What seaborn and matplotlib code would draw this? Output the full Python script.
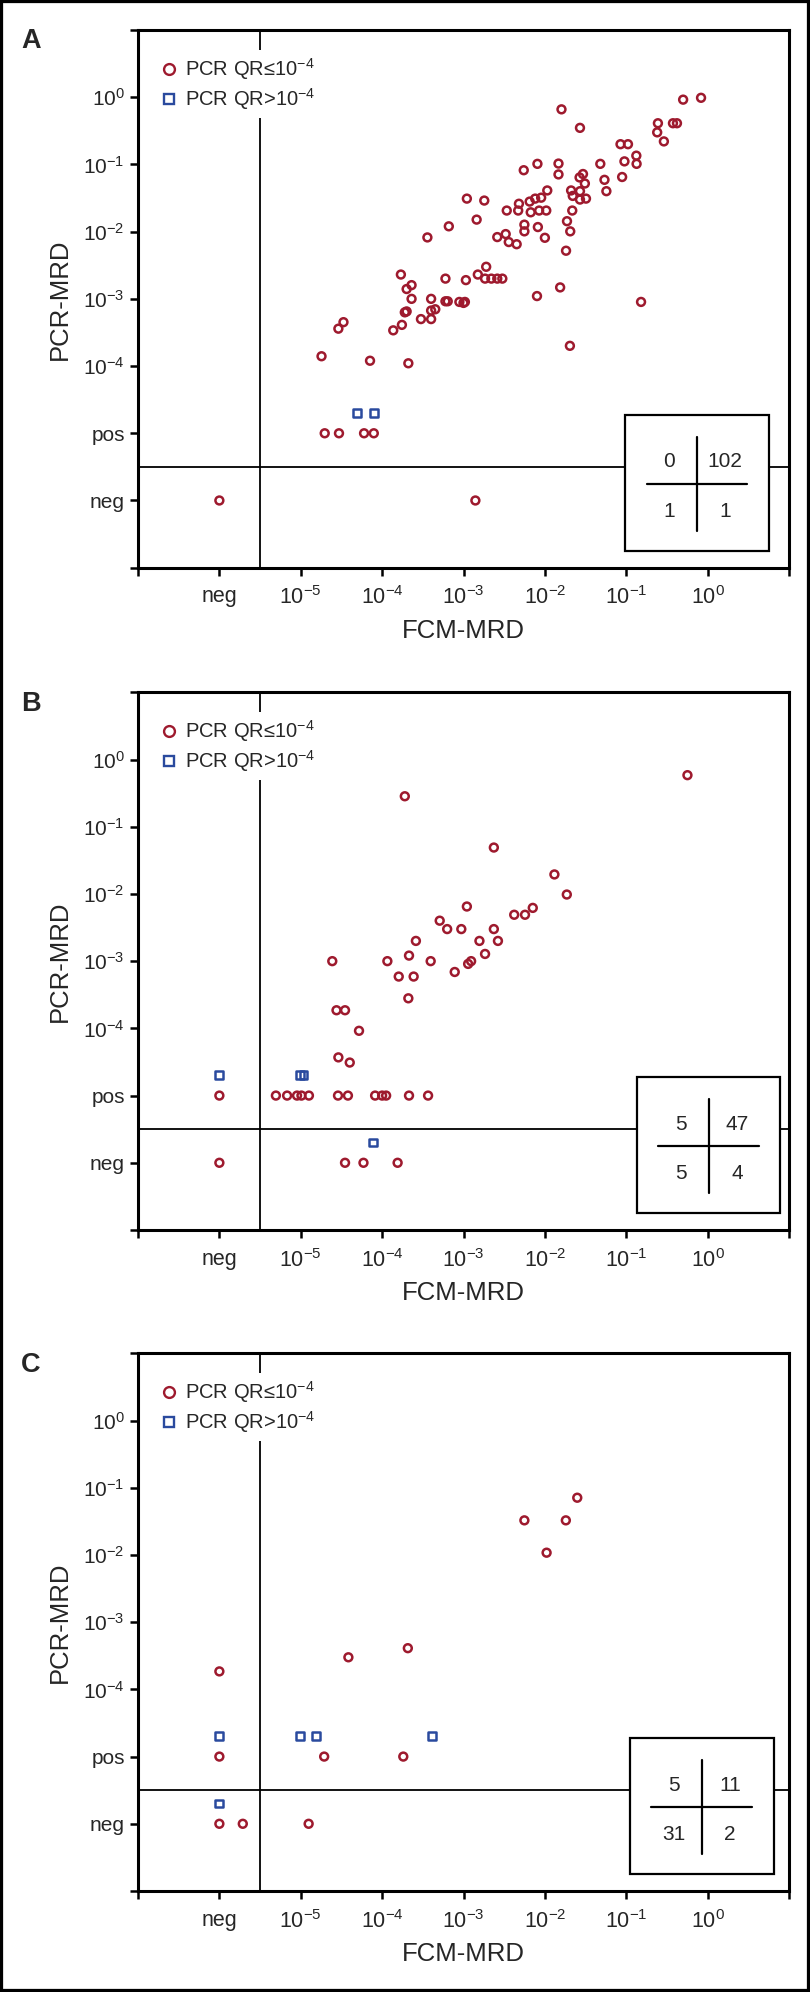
import numpy as np
import pandas as pd
import matplotlib
matplotlib.use("Agg")
import matplotlib.pyplot as plt
from matplotlib.patches import Rectangle
from matplotlib.lines import Line2D
import seaborn as sns

# ---------------------------------------------------------------
# Data: FCM-MRD vs PCR-MRD per patient, "neg"/"pos" are categories
# ---------------------------------------------------------------
# Panel A
a_fcm_low = [
    1.6e-2, 2.7e-2, 0.50, 0.83, 0.245, 0.375, 0.42, 0.24, 0.29, 0.085,
    0.105, 0.133, 0.095, 0.134, 0.048, 0.089, 0.0147, 0.0081, 0.0055, 0.0147,
    0.0294, 0.0267, 0.031, 0.054, 0.057, 0.021, 0.027, 0.022, 0.027, 0.032,
    0.0107, 0.009, 0.0076, 0.0065, 0.0048, 0.0034, 0.0047, 0.0067, 0.0085, 0.0104,
    0.0217, 0.0187, 0.0205, 0.0082, 0.0056, 0.0056, 0.010, 0.0182, 0.0026, 0.0033,
    0.0036, 0.0045, 0.0011, 0.0018, 0.00145, 0.00066, 0.00036, 0.0019, 0.0015, 0.00184,
    0.0022, 0.0026, 0.0030, 0.0006, 0.00107, 0.0080, 0.0154, 0.152, 0.00017, 0.00023,
    0.0002, 0.00023, 0.0004, 0.0006, 0.00064, 0.00089, 0.001, 0.00104, 0.0004, 0.00045,
    0.00019, 0.0002, 0.000175, 0.000137, 0.0003, 0.0004, 3.35e-5, 2.9e-5, 1.8e-5, 7.1e-5,
    0.00021, 0.0203, 1.97e-5, 2.95e-5, 6.0e-5, 7.9e-5, "neg", 0.0014,
]
a_pcr_low = [
    0.66, 0.35, 0.92, 0.98, 0.41, 0.41, 0.41, 0.30, 0.22, 0.20,
    0.20, 0.135, 0.111, 0.102, 0.102, 0.065, 0.103, 0.102, 0.082, 0.071,
    0.072, 0.064, 0.052, 0.059, 0.040, 0.041, 0.040, 0.034, 0.030, 0.031,
    0.041, 0.032, 0.031, 0.028, 0.026, 0.0206, 0.0206, 0.0194, 0.0206, 0.0206,
    0.0206, 0.0143, 0.0101, 0.0117, 0.0127, 0.0101, 0.0081, 0.0052, 0.0083, 0.0092,
    0.0070, 0.0065, 0.031, 0.029, 0.0151, 0.012, 0.0082, 0.0030, 0.0023, 0.0020,
    0.0020, 0.0020, 0.0020, 0.0020, 0.0019, 0.0011, 0.00148, 0.0009, 0.0023, 0.0016,
    0.0014, 0.0010, 0.0010, 0.00092, 0.00092, 0.0009, 0.00087, 0.0009, 0.00067, 0.0007,
    0.00063, 0.00065, 0.00041, 0.00034, 0.0005, 0.0005, 0.00045, 0.00036, 0.00014, 0.00012,
    0.00011, 0.0002, "pos", "pos", "pos", "pos", "neg", "neg",
]
a_fcm_high = [4.9e-5, 7.9e-5]
a_pcr_high = [2.0e-5, 2.0e-5]
a_counts = ["0", "102", "1", "1"]

# Panel B
b_fcm_low = [
    0.565, 0.00019, 0.00236, 0.0131, 0.0186, 0.0011, 0.0042, 0.0057, 0.0071, 0.00051,
    0.00063, 0.00094, 0.00236, 0.00026, 0.00157, 0.00265, 0.00184, 0.00124, 0.00114, 2.44e-5,
    0.000116, 0.000214, 0.000395, 0.00078, 0.00016, 0.000244, 0.00021, 2.75e-5, 3.5e-5, 5.2e-5,
    2.9e-5, 4.0e-5, "neg", 4.95e-6, 6.8e-6, 9.0e-6, 1.02e-5, 1.26e-5, 2.87e-5, 3.8e-5,
    8.2e-5, 1.0e-4, 1.12e-4, 2.14e-4, 3.67e-4, "neg", 3.5e-5, 5.9e-5, 1.55e-4,
]
b_pcr_low = [
    0.585, 0.284, 0.049, 0.0195, 0.0098, 0.0065, 0.0049, 0.0049, 0.0062, 0.0040,
    0.0030, 0.0030, 0.0030, 0.0020, 0.0020, 0.0020, 0.00128, 0.0010, 0.00091, 0.0010,
    0.0010, 0.00121, 0.0010, 0.00069, 0.00059, 0.00059, 0.00028, 0.000186, 0.000186, 9.2e-5,
    3.7e-5, 3.1e-5, "pos", "pos", "pos", "pos", "pos", "pos", "pos", "pos",
    "pos", "pos", "pos", "pos", "pos", "neg", "neg", "neg", "neg",
]
b_fcm_high = ["neg", 9.7e-6, 1.08e-5, 7.8e-5]
b_pcr_high = [2.0e-5, 2.0e-5, 2.0e-5, 2.0e-6]
b_counts = ["5", "47", "5", "4"]

# Panel C
c_fcm_low = [0.025, 0.0056, 0.0181, 0.0105, 0.000207, 3.85e-5, "neg",
             "neg", 1.94e-5, 0.000182, "neg", 1.94e-6, 1.25e-5]
c_pcr_low = [0.071, 0.0327, 0.0327, 0.0108, 0.00041, 0.0003, 0.000185,
             "pos", "pos", "pos", "neg", "neg", "neg"]
c_fcm_high = ["neg", 9.7e-6, 1.55e-5, 0.000413, "neg"]
c_pcr_high = [2.0e-5, 2.0e-5, 2.0e-5, 2.0e-5, 2.0e-6]
c_counts = ["5", "11", "31", "2"]

x_ticklabels = ["", "neg", "$10^{-5}$", "$10^{-4}$", "$10^{-3}$",
                "$10^{-2}$", "$10^{-1}$", "$10^{0}$", ""]
y_ticklabels = ["", "neg", "pos", "$10^{-4}$", "$10^{-3}$",
                "$10^{-2}$", "$10^{-1}$", "$10^{0}$", ""]

RED = "#9E1A2E"
BLUE = "#2A4A9E"
FONT = ["Liberation Sans", "DejaVu Sans"]

sns.set_style("ticks")
plt.rcParams["font.family"] = FONT
plt.rcParams["mathtext.default"] = "regular"


def to_axis(v):
    """Map an MRD value (or neg/pos category) to the log axis position."""
    if v == "neg":
        return -6.0
    if v == "pos":
        return -5.0
    return float(np.log10(v))


def make_frame(fcm, pcr):
    return pd.DataFrame({
        "fcm": [to_axis(v) for v in fcm],
        "pcr": [to_axis(v) for v in pcr],
    })


def open_scatter(ax, df, marker, color):
    sns.scatterplot(data=df, x="fcm", y="pcr", marker=marker, s=32,
                    color=color, edgecolor=color, linewidth=1.8,
                    ax=ax, legend=False, zorder=3)
    coll = ax.collections[-1]
    coll.set_facecolor("none")
    coll.set_edgecolor(color)


def draw_table(ax, cx, counts):
    ax.add_patch(Rectangle((cx - 0.88, -6.75), 1.76, 2.02,
                           facecolor="white", edgecolor="black",
                           linewidth=1.6, zorder=4))
    ax.plot([cx - 0.62, cx + 0.62], [-5.75, -5.75],
            color="black", linewidth=1.6, zorder=5)
    ax.plot([cx, cx], [-5.05, -6.45], color="black", linewidth=1.6, zorder=5)
    spots = [(cx - 0.345, -5.505), (cx + 0.345, -5.505),
             (cx - 0.345, -6.24), (cx + 0.345, -6.24)]
    for (tx, ty), txt in zip(spots, counts):
        ax.text(tx, ty, txt, ha="center", va="baseline",
                fontsize=15, zorder=6)


def draw_panel(fig, top_px, letter, low, high, counts, cx):
    W, H = 810, 1992
    ax = fig.add_axes([138 / W, 1 - (top_px + 537.7) / H,
                       651 / W, 537.7 / H])
    ax.axvline(-5.5, color="black", linewidth=1.3, zorder=2)
    ax.axhline(-5.5, color="black", linewidth=1.3, zorder=2)

    open_scatter(ax, make_frame(*low), "o", RED)
    open_scatter(ax, make_frame(*high), "s", BLUE)

    ax.set_xlim(-7, 1)
    ax.set_ylim(-7, 1)
    ax.set_xticks(range(-7, 2))
    ax.set_yticks(range(-7, 2))
    ax.set_xticklabels(x_ticklabels)
    ax.set_yticklabels(y_ticklabels)
    ax.tick_params(axis="both", direction="out", length=6, width=1.8,
                   labelsize=15, color="black")
    ax.tick_params(axis="x", pad=7.5, labelsize=15.5)
    ax.tick_params(axis="y", pad=3.5)
    for sp in ax.spines.values():
        sp.set_visible(True)
        sp.set_linewidth(2.2)
        sp.set_color("black")

    ax.set_xlabel("FCM-MRD", fontsize=18.5, labelpad=7)
    ax.set_ylabel("PCR-MRD", fontsize=18.5, labelpad=8)

    handles = [
        Line2D([], [], ls="none", marker="o", ms=7.8, mfc="none",
               mec=RED, mew=1.7, label="PCR QR\u2264$10^{-4}$"),
        Line2D([], [], ls="none", marker="s", ms=7.4, mfc="none",
               mec=BLUE, mew=1.7, label="PCR QR>$10^{-4}$"),
    ]
    leg = ax.legend(handles=handles, loc="upper left",
                    bbox_to_anchor=(0.026, 0.963), borderaxespad=0,
                    borderpad=0.3, handlelength=0.8, handletextpad=0.4,
                    labelspacing=0.2, frameon=True, fancybox=False,
                    framealpha=1, facecolor="white", edgecolor="none",
                    prop={"family": FONT, "size": 14.5})
    leg.set_zorder(7)

    draw_table(ax, cx, counts)

    fig.text(31 / W, 1 - (top_px + 18.5) / H, letter, ha="center",
             va="baseline", fontsize=19.5, fontweight="bold")
    return ax


fig = plt.figure(figsize=(8.1, 19.92), dpi=100)
draw_panel(fig, 30.0, "A", (a_fcm_low, a_pcr_low),
           (a_fcm_high, a_pcr_high), a_counts, -0.13)
draw_panel(fig, 692.3, "B", (b_fcm_low, b_pcr_low),
           (b_fcm_high, b_pcr_high), b_counts, 0.015)
draw_panel(fig, 1353.3, "C", (c_fcm_low, c_pcr_low),
           (c_fcm_high, c_pcr_high), c_counts, -0.07)

# outer frame around the whole figure
fig.add_artist(Rectangle((0, 0), 1, 1, transform=fig.transFigure,
                         fill=False, edgecolor="black", linewidth=4.5,
                         clip_on=False))

fig.savefig("out.png", dpi=100)
plt.close(fig)
